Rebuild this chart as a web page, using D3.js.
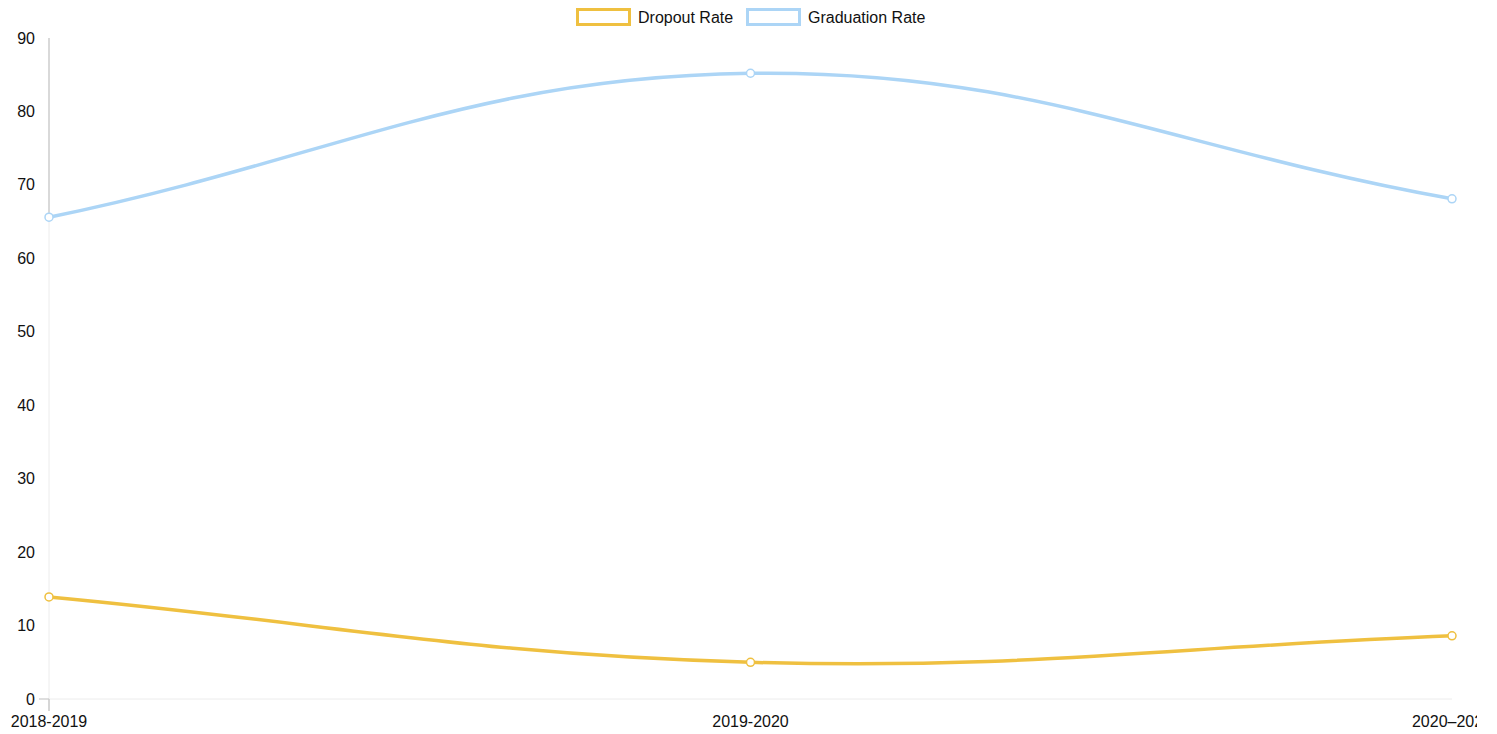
<!DOCTYPE html>
<html>
<head>
<meta charset="utf-8">
<script src="https://cdn.jsdelivr.net/npm/d3@7"></script>
<style>
  body { margin: 0; background: #fff; overflow: hidden; }
  svg text { font-family: "Liberation Sans", Arial, Helvetica, sans-serif; fill: #111; }
</style>
</head>
<body>
<div class="chart"></div>
<script>
var years = ["2018-2019", "2019-2020", "2020\u20132021"];
var dropoutRate = [13.9, 5.0, 8.6];
var graduationRate = [65.6, 85.2, 68.1];
var yTicks = [0, 10, 20, 30, 40, 50, 60, 70, 80, 90];

var width = 1497, height = 734;

var x = d3.scalePoint()
    .domain(years)
    .range([49, 1452]);

var y = d3.scaleLinear()
    .domain([0, 90])
    .range([699, 38]);

var series = [
    {name: "Dropout Rate", values: dropoutRate, color: "#efc040"},
    {name: "Graduation Rate", values: graduationRate, color: "#acd5f6"}
];

// chart.js style bezier (tension 0.4)
function splinePath(pts) {
    var t = 0.4;
    var ctrl = pts.map(function(p, i) {
        var prev = pts[i - 1] || p, next = pts[i + 1] || p;
        var d01 = Math.hypot(p[0] - prev[0], p[1] - prev[1]);
        var d12 = Math.hypot(next[0] - p[0], next[1] - p[1]);
        var s01 = d01 / (d01 + d12), s12 = d12 / (d01 + d12);
        if (isNaN(s01)) s01 = 0;
        if (isNaN(s12)) s12 = 0;
        var fa = t * s01, fb = t * s12;
        return {
            prev: [p[0] - fa * (next[0] - prev[0]), p[1] - fa * (next[1] - prev[1])],
            next: [p[0] + fb * (next[0] - prev[0]), p[1] + fb * (next[1] - prev[1])]
        };
    });
    var path = d3.path();
    path.moveTo(pts[0][0], pts[0][1]);
    for (var i = 1; i < pts.length; i++) {
        path.bezierCurveTo(ctrl[i - 1].next[0], ctrl[i - 1].next[1],
            ctrl[i].prev[0], ctrl[i].prev[1], pts[i][0], pts[i][1]);
    }
    return path.toString();
}

var svg = d3.select(".chart").append("svg")
    .attr("width", width)
    .attr("height", height);

svg.append("clipPath").attr("id", "clip")
    .append("rect").attr("x", 0).attr("y", 0)
    .attr("width", 1477).attr("height", height);

var root = svg.append("g").attr("clip-path", "url(#clip)");

// axis borders
root.append("line")
    .attr("x1", x(years[0])).attr("x2", x(years[0]))
    .attr("y1", y(90)).attr("y2", y(0))
    .attr("stroke", "#ececec").attr("stroke-width", 1);
root.append("line")
    .attr("x1", x(years[0])).attr("x2", x(years[years.length - 1]))
    .attr("y1", y(0)).attr("y2", y(0))
    .attr("stroke", "#ececec").attr("stroke-width", 1);
root.append("line")
    .attr("x1", x(years[0])).attr("x2", x(years[0]))
    .attr("y1", y(90)).attr("y2", y(graduationRate[0]))
    .attr("stroke", "#cfcfcf").attr("stroke-width", 1.5);
// small ticks at origin
root.append("line")
    .attr("x1", x(years[0]) - 10).attr("x2", x(years[0]))
    .attr("y1", y(0)).attr("y2", y(0))
    .attr("stroke", "#c8c8c8").attr("stroke-width", 1.2);
root.append("line")
    .attr("x1", x(years[0])).attr("x2", x(years[0]))
    .attr("y1", y(0)).attr("y2", y(0) + 12)
    .attr("stroke", "#c8c8c8").attr("stroke-width", 1.5);

// y labels
root.append("g").selectAll("text")
    .data(yTicks)
    .enter().append("text")
    .attr("x", 35)
    .attr("y", function(d) { return y(d); })
    .attr("dy", "0.35em")
    .attr("text-anchor", "end")
    .attr("font-size", 16)
    .text(function(d) { return d; });

// x labels
root.append("g").selectAll("text")
    .data(years)
    .enter().append("text")
    .attr("x", function(d) { return x(d); })
    .attr("y", 721)
    .attr("dy", "0.35em")
    .attr("text-anchor", "middle")
    .attr("font-size", 16)
    .text(function(d) { return d; });

// lines
series.forEach(function(s) {
    var pts = s.values.map(function(v, i) { return [x(years[i]), y(v)]; });
    root.append("path")
        .attr("d", splinePath(pts))
        .attr("fill", "none")
        .attr("stroke", s.color)
        .attr("stroke-width", 3.5);
    root.append("g").selectAll("circle")
        .data(pts)
        .enter().append("circle")
        .attr("cx", function(d) { return d[0]; })
        .attr("cy", function(d) { return d[1]; })
        .attr("r", 4)
        .attr("fill", "#fff")
        .attr("stroke", s.color)
        .attr("stroke-width", 1.5);
});

// legend
var legendX = [576, 746];
var legend = root.append("g").selectAll("g")
    .data(series)
    .enter().append("g")
    .attr("transform", function(d, i) { return "translate(" + legendX[i] + ",8)"; });
legend.append("rect")
    .attr("x", 1.5).attr("y", 1.5)
    .attr("width", 52).attr("height", 15)
    .attr("fill", "#fff")
    .attr("stroke", function(d) { return d.color; })
    .attr("stroke-width", 3);
legend.append("text")
    .attr("x", 62)
    .attr("y", 9)
    .attr("dy", "0.35em")
    .attr("font-size", 16)
    .text(function(d) { return d.name; });
</script>
</body>
</html>
